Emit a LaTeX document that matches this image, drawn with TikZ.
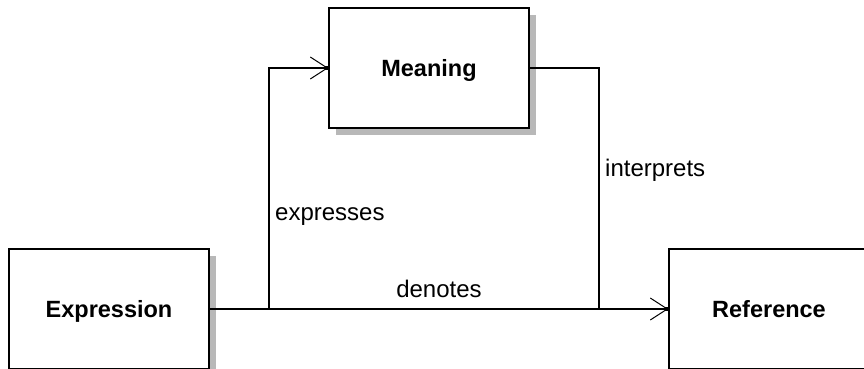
\documentclass[tikz,border=0pt]{standalone}
\usepackage{fontspec}
\setmainfont{Liberation Sans}
\usetikzlibrary{arrows.meta,shadows}
\begin{document}
\begin{tikzpicture}[x=1pt,y=-1pt,
  box/.style={draw, line width=1.6pt, fill=white, minimum width=200pt, minimum height=120pt, inner sep=0pt,
    text height=16.5pt, text depth=0pt,
    font=\fontsize{23.5}{27}\selectfont\bfseries,
    drop shadow={shadow xshift=7pt, shadow yshift=-7pt, fill=black!28, opacity=1}},
  conn/.style={line width=1.3pt},
  arr/.style={conn, -{Straight Barb[length=17pt,width=22pt,line width=1pt]}},
  lbl/.style={font=\fontsize{24}{28}\selectfont, inner sep=0pt}]
\useasboundingbox (0,0) rectangle (864,369);
\clip (0,0) rectangle (864,369);
\node[box] (m) at (429,68) {Meaning};
\node[box] (e) at (109,309) {Expression};
\node[box] (r) at (769,309) {Reference};
\coordinate (j1) at (269,309);
\coordinate (j2) at (599,309);
\draw[arr] (e.east) -- (r.west);
\draw[arr] (j1) |- (m.west);
\draw[conn] (m.east) -| (j2);
\fill[shift={(m.west)}] (-3,-1.8) rectangle (0.5,1.8);
\fill[shift={(r.west)}] (-3,-1.8) rectangle (0.5,1.8);
\node[lbl, anchor=base west] (lx) at (275,220) {expresses};
\node[lbl, anchor=base] (ld) at (439,297) {denotes};
\node[lbl, anchor=base west] (li) at (605,176) {interprets};
\end{tikzpicture}
\end{document}
